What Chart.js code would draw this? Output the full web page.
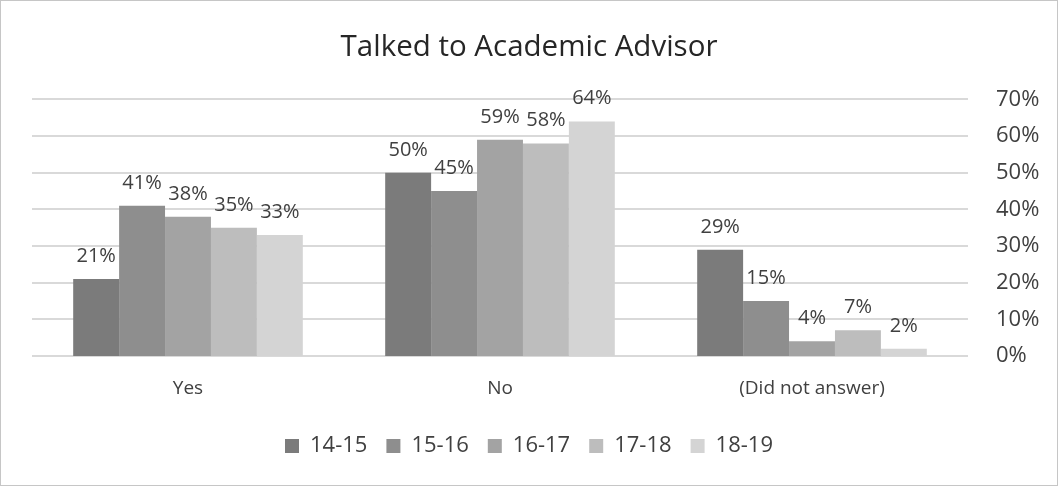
<!DOCTYPE html>
<html>
<head>
<meta charset="utf-8">
<script src="https://cdn.jsdelivr.net/npm/chart.js@4"></script>
<style>
  html, body { margin: 0; padding: 0; background: #fff; }
  #wrap { width: 1058px; height: 486px; }
</style>
</head>
<body>
<div id="wrap"><canvas id="graph"></canvas></div>
<script>
// Answers per school year, in percent
var categories = ['Yes', 'No', '(Did not answer)'];
var years = ['14-15', '15-16', '16-17', '17-18', '18-19'];
var y1415 = [21, 50, 29];
var y1516 = [41, 45, 15];
var y1617 = [38, 59, 4];
var y1718 = [35, 58, 7];
var y1819 = [33, 64, 2];
var yTicks = [0, 10, 20, 30, 40, 50, 60, 70];

var series = [y1415, y1516, y1617, y1718, y1819];
var greys = ['#7b7b7b', '#8e8e8e', '#a3a3a3', '#bdbdbd', '#d4d4d4'];

Chart.defaults.font.family = '"Open Sans", sans-serif';
Chart.defaults.color = '#404040';

// white background and thin frame
var frame = {
    id: 'frame',
    beforeDraw: function (chart) {
        var ctx = chart.ctx;
        ctx.save();
        ctx.fillStyle = '#fff';
        ctx.fillRect(0, 0, chart.width, chart.height);
        ctx.strokeStyle = '#c6c6c6';
        ctx.lineWidth = 1;
        ctx.strokeRect(0.5, 0.5, chart.width - 1, chart.height - 1);
        ctx.restore();
    }
};

// percent labels above each bar
var barLabels = {
    id: 'barLabels',
    afterDatasetsDraw: function (chart) {
        var ctx = chart.ctx;
        ctx.save();
        ctx.font = '20px "Open Sans", sans-serif';
        ctx.fillStyle = '#404040';
        ctx.textAlign = 'center';
        ctx.textBaseline = 'alphabetic';
        chart.data.datasets.forEach(function (ds, i) {
            chart.getDatasetMeta(i).data.forEach(function (bar, j) {
                ctx.fillText(ds.data[j] + '%', bar.x, bar.y - 17);
            });
        });
        ctx.restore();
    }
};

var data = {
    labels: categories,
    datasets: series.map(function (vals, i) {
        return {
            label: years[i],
            data: vals,
            backgroundColor: greys[i],
            borderWidth: 0
        };
    })
};

var chart = new Chart(document.getElementById('graph'), {
    type: 'bar',
    data: data,
    plugins: [frame, barLabels],
    options: {
        responsive: true,
        maintainAspectRatio: false,
        animation: false,
        categoryPercentage: 0.736,
        barPercentage: 1,
        layout: { padding: { left: 0, right: 0, top: 30, bottom: 19 } },
        plugins: {
            title: {
                display: true,
                text: 'Talked to Academic Advisor',
                color: '#262626',
                font: { size: 29.5, weight: 'normal' },
                padding: { top: 0, bottom: 34 }
            },
            legend: {
                position: 'bottom',
                labels: {
                    boxWidth: 14,
                    boxHeight: 14,
                    padding: 19,
                    font: { size: 22 }
                }
            },
            tooltip: { enabled: false }
        },
        scales: {
            x: {
                grid: { display: false },
                border: { display: false },
                ticks: { padding: 15, font: { size: 19, lineHeight: 1 } },
                afterFit: function (axis) { axis.height += 3; }
            },
            // empty spacer on the left side
            spacer: {
                position: 'left',
                grid: { display: false },
                border: { display: false },
                ticks: { display: false },
                afterFit: function (axis) { axis.width = 32; }
            },
            y: {
                position: 'right',
                min: 0,
                max: 70,
                afterBuildTicks: function (axis) {
                    axis.ticks = yTicks.map(function (v) { return { value: v }; });
                },
                afterFit: function (axis) { axis.width = 90; },
                grid: { color: '#d9d9d9', lineWidth: 2, drawTicks: false },
                border: { display: false },
                ticks: {
                    padding: 28,
                    font: { size: 22 },
                    callback: function (v) { return v + '%'; }
                }
            }
        }
    }
});
</script>
</body>
</html>
